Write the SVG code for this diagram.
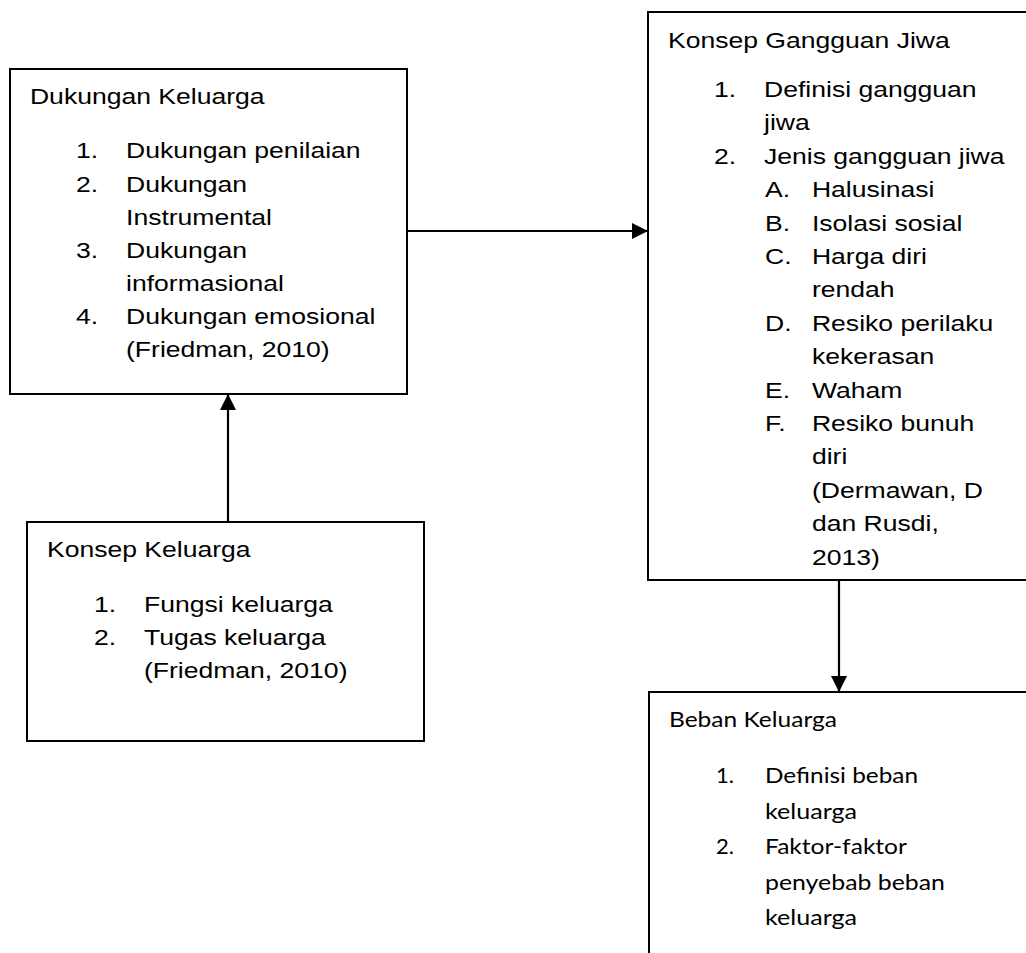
<svg xmlns="http://www.w3.org/2000/svg" width="1026" height="953" viewBox="0 0 1026 953">
<style>
.box{fill:#fff;stroke:#000;stroke-width:2}
.t{font-family:"Liberation Sans",Arial,sans-serif;font-size:22.5px;fill:#000}
.c{font-family:Lato,"Open Sans",sans-serif;font-size:22px;fill:#000}
.ln{stroke:#000;stroke-width:2.2;fill:none}
</style>
<defs>
<marker id="ah" viewBox="0 0 16 16" refX="16" refY="8" markerUnits="userSpaceOnUse" markerWidth="16" markerHeight="16" orient="auto">
<path d="M0,0 L16,8 L0,16 Z" fill="#000"/>
</marker>
</defs>
<rect width="1026" height="953" fill="#fff"/>

<g id="connectors">
<line class="ln" x1="407" y1="231" x2="648" y2="231" marker-end="url(#ah)"/>
<line class="ln" x1="228" y1="522" x2="228" y2="394" marker-end="url(#ah)"/>
<line class="ln" x1="839" y1="580" x2="839" y2="692" marker-end="url(#ah)"/>
</g>

<g id="dukungan-keluarga">
<rect class="box" x="10" y="69" width="397" height="325"/>
<g class="t" transform="scale(1.18 1)">
<text x="25.4" y="104">Dukungan Keluarga</text>
<text x="64.4" y="158.5">1.</text><text x="106.8" y="158.5">Dukungan penilaian</text>
<text x="64.4" y="191.6">2.</text><text x="106.8" y="191.6">Dukungan</text>
<text x="106.8" y="224.7">Instrumental</text>
<text x="64.4" y="257.8">3.</text><text x="106.8" y="257.8">Dukungan</text>
<text x="106.8" y="290.9">informasional</text>
<text x="64.4" y="324">4.</text><text x="106.8" y="324">Dukungan emosional</text>
<text x="106.8" y="357.1">(Friedman, 2010)</text>
</g>
</g>

<g id="konsep-gangguan-jiwa">
<rect class="box" x="648" y="12" width="400" height="568"/>
<g class="t" transform="scale(1.18 1)">
<text x="566.1" y="48">Konsep Gangguan Jiwa</text>
<text x="605.1" y="97">1.</text><text x="647.5" y="97">Definisi gangguan</text>
<text x="647.5" y="130.4">jiwa</text>
<text x="605.1" y="163.8">2.</text><text x="647.5" y="163.8">Jenis gangguan jiwa</text>
<text x="648.3" y="197.2">A.</text><text x="688.1" y="197.2">Halusinasi</text>
<text x="648.3" y="230.6">B.</text><text x="688.1" y="230.6">Isolasi sosial</text>
<text x="648.3" y="264">C.</text><text x="688.1" y="264">Harga diri</text>
<text x="688.1" y="297.4">rendah</text>
<text x="648.3" y="330.8">D.</text><text x="688.1" y="330.8">Resiko perilaku</text>
<text x="688.1" y="364.2">kekerasan</text>
<text x="648.3" y="397.6">E.</text><text x="688.1" y="397.6">Waham</text>
<text x="648.3" y="431">F.</text><text x="688.1" y="431">Resiko bunuh</text>
<text x="688.1" y="464.4">diri</text>
<text x="688.1" y="497.8">(Dermawan, D</text>
<text x="688.1" y="531.2">dan Rusdi,</text>
<text x="688.1" y="564.6">2013)</text>
</g>
</g>

<g id="konsep-keluarga">
<rect class="box" x="27" y="522" width="397" height="219"/>
<g class="t" transform="scale(1.18 1)">
<text x="39.8" y="557">Konsep Keluarga</text>
<text x="79.7" y="612">1.</text><text x="122" y="612">Fungsi keluarga</text>
<text x="79.7" y="645">2.</text><text x="122" y="645">Tugas keluarga</text>
<text x="122" y="678">(Friedman, 2010)</text>
</g>
</g>

<g id="beban-keluarga">
<rect class="box" x="649" y="692" width="400" height="300"/>
<g class="c">
<text x="669" y="727" textLength="168" lengthAdjust="spacingAndGlyphs">Beban Keluarga</text>
<text x="716" y="783">1.</text><text x="765" y="783" textLength="153" lengthAdjust="spacingAndGlyphs">Definisi beban</text>
<text x="765" y="818.5" textLength="92" lengthAdjust="spacingAndGlyphs">keluarga</text>
<text x="716" y="854">2.</text><text x="765" y="854" textLength="142" lengthAdjust="spacingAndGlyphs">Faktor-faktor</text>
<text x="765" y="889.5" textLength="180" lengthAdjust="spacingAndGlyphs">penyebab beban</text>
<text x="765" y="925" textLength="92" lengthAdjust="spacingAndGlyphs">keluarga</text>
</g>
</g>
</svg>
